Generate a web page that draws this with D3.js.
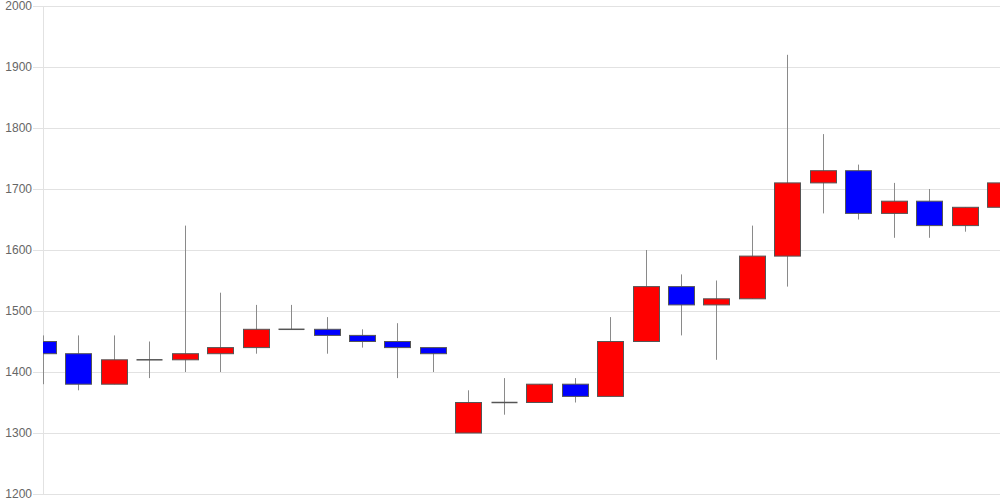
<!DOCTYPE html>
<html>
<head>
<meta charset="utf-8">
<script src="https://cdn.jsdelivr.net/npm/d3@7"></script>
<style>
  html, body { margin: 0; padding: 0; background: #fff; }
  svg { display: block; }
</style>
</head>
<body>
<svg id="chart" width="1000" height="500"></svg>
<script>
const categories = ["1","2","3","4","5","6","7","8","9","10","11","12","13","14","15","16","17","18","19","20","21","22","23","24","25","26","27","28"];
const openValues  = [1450,1430,1380,1420,1420,1430,1440,1470,1470,1460,1450,1440,1300,1350,1350,1380,1360,1450,1540,1510,1520,1590,1710,1730,1660,1680,1640,1670];
const closeValues = [1430,1380,1420,1420,1430,1440,1470,1470,1460,1450,1440,1430,1350,1350,1380,1360,1450,1540,1510,1520,1590,1710,1730,1660,1680,1640,1670,1710];
const highValues  = [1460,1460,1460,1450,1640,1530,1510,1510,1490,1470,1480,1440,1370,1390,1380,1390,1490,1600,1560,1550,1640,1920,1790,1740,1710,1700,1670,1710];
const lowValues   = [1380,1370,1380,1390,1400,1400,1430,1470,1430,1440,1390,1400,1300,1330,1350,1350,1360,1450,1460,1420,1520,1540,1660,1650,1620,1620,1630,1630];
const yTicks = [1200,1300,1400,1500,1600,1700,1800,1900,2000];

const data = categories.map((c, i) => ({
  c, open: openValues[i], close: closeValues[i], high: highValues[i], low: lowValues[i]
}));

const svg = d3.select("#chart");
const mLeft = 43, mRight = 1000, mTop = 6, mBottom = 494;

const x = d3.scalePoint().domain(categories).range([mLeft, mRight]);
const y = d3.scaleLinear().domain([1200, 2000]).range([mBottom, mTop]);

// grid lines + labels
const yAxis = d3.axisLeft(y).tickValues(yTicks).tickSize(0).tickPadding(0).tickFormat(d3.format("d"));
const ga = svg.append("g").attr("transform", `translate(${mLeft},0)`);
ga.call(yAxis);
ga.select(".domain").remove();
ga.selectAll(".tick line")
  .attr("x1", -10).attr("x2", mRight - mLeft)
  .attr("stroke", "#e2e2e2").attr("shape-rendering", "crispEdges");
ga.selectAll(".tick text")
  .attr("x", -11)
  .attr("fill", "#666")
  .style("font-family", "'Liberation Sans', Arial, sans-serif")
  .style("font-size", "12px");

// vertical axis line
svg.append("line")
  .attr("x1", mLeft + 0.5).attr("x2", mLeft + 0.5)
  .attr("y1", mTop).attr("y2", mBottom)
  .attr("stroke", "#e2e2e2");

svg.append("defs").append("clipPath").attr("id", "clip")
  .append("rect").attr("x", mLeft).attr("y", 0).attr("width", mRight - mLeft).attr("height", 500);

const plot = svg.append("g").attr("clip-path", "url(#clip)");
const boxW = 26;

plot.selectAll("line.wick").data(data).enter().append("line")
  .attr("class", "wick")
  .attr("x1", d => Math.round(x(d.c)) + 0.5)
  .attr("x2", d => Math.round(x(d.c)) + 0.5)
  .attr("y1", d => y(d.high))
  .attr("y2", d => y(d.low))
  .attr("stroke", "#8a8a8a")
  .attr("stroke-width", 1);

plot.selectAll("rect.body").data(data.filter(d => d.open !== d.close)).enter().append("rect")
  .attr("class", "body")
  .attr("x", d => Math.round(x(d.c) - boxW / 2) + 0.5)
  .attr("y", d => y(Math.max(d.open, d.close)))
  .attr("width", boxW)
  .attr("height", d => Math.abs(y(d.open) - y(d.close)))
  .attr("fill", d => d.close > d.open ? "#ff0000" : "#0000ff")
  .attr("stroke", "#555")
  .attr("stroke-width", 1);

// doji lines
plot.selectAll("line.doji").data(data.filter(d => d.open === d.close)).enter().append("line")
  .attr("class", "doji")
  .attr("x1", d => Math.round(x(d.c) - boxW / 2) + 0.5)
  .attr("x2", d => Math.round(x(d.c) + boxW / 2) + 0.5)
  .attr("y1", d => y(d.open))
  .attr("y2", d => y(d.open))
  .attr("stroke", "#555")
  .attr("stroke-width", 1.5);
</script>
</body>
</html>
